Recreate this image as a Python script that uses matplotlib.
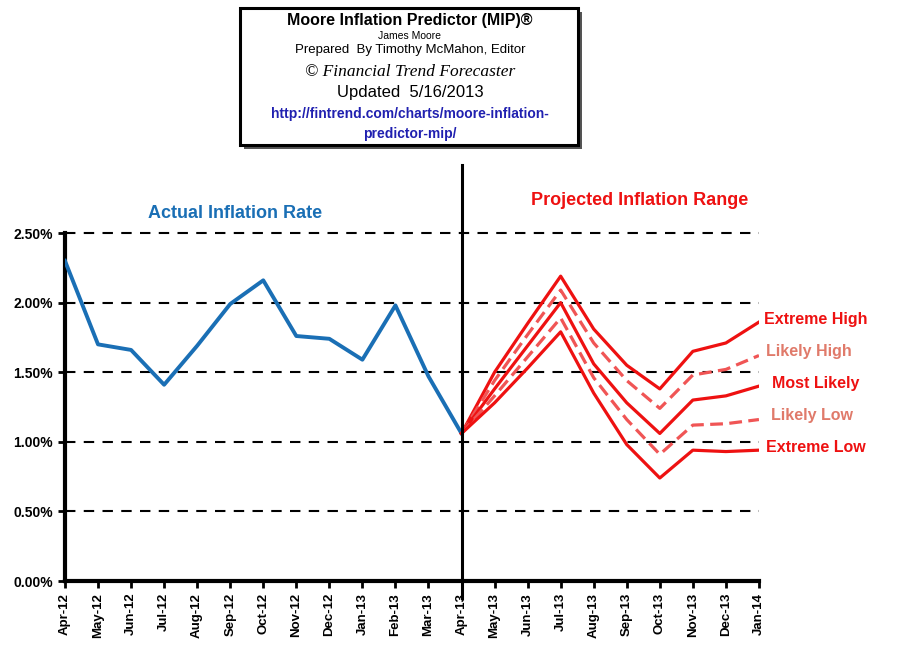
import matplotlib
matplotlib.use("Agg")
import matplotlib.pyplot as plt
from matplotlib.patches import Rectangle
from matplotlib.lines import Line2D

plt.rcParams['font.family'] = ['Liberation Sans', 'DejaVu Sans']

months = ["Apr-12", "May-12", "Jun-12", "Jul-12", "Aug-12", "Sep-12", "Oct-12",
          "Nov-12", "Dec-12", "Jan-13", "Feb-13", "Mar-13", "Apr-13", "May-13",
          "Jun-13", "Jul-13", "Aug-13", "Sep-13", "Oct-13", "Nov-13", "Dec-13",
          "Jan-14"]

actual = [2.30, 1.70, 1.66, 1.41, 1.69, 1.99, 2.16, 1.76, 1.74, 1.59, 1.98,
          1.47, 1.06]

# projections start at Apr-13
extreme_high = [1.06, 1.50, 1.85, 2.19, 1.81, 1.55, 1.38, 1.65, 1.71, 1.86]
likely_high = [1.06, 1.44, 1.77, 2.09, 1.71, 1.44, 1.24, 1.48, 1.52, 1.62]
most_likely = [1.06, 1.38, 1.69, 2.00, 1.56, 1.28, 1.06, 1.30, 1.33, 1.40]
likely_low = [1.06, 1.33, 1.61, 1.89, 1.46, 1.16, 0.91, 1.12, 1.13, 1.16]
extreme_low = [1.06, 1.28, 1.53, 1.79, 1.35, 0.98, 0.74, 0.94, 0.93, 0.94]

yticks = [0.0, 0.5, 1.0, 1.5, 2.0, 2.5]

BLUE = "#1a6fb5"
RED = "#ee1111"
LIGHT = "#f05555"
PINK = "#e07a6a"

fig = plt.figure(figsize=(9.1, 6.61), dpi=100)
ax = fig.add_axes([0.0714, 0.121, 0.7626, 0.5265])

x_act = list(range(len(actual)))
x_proj = list(range(len(actual) - 1, len(months)))

for y in yticks[1:]:
    ax.plot([0, len(months) - 1], [y, y], color="black", lw=1.5,
            ls=(0, (5, 4)), zorder=1, clip_on=False)

ax.plot(x_act, actual, color=BLUE, lw=2.8, zorder=3)
ax.plot(x_proj, extreme_high, color=RED, lw=2.3, zorder=3)
ax.plot(x_proj, likely_high, color=LIGHT, lw=2.3, ls=(0, (4, 2)), zorder=3)
ax.plot(x_proj, most_likely, color=RED, lw=2.3, zorder=3)
ax.plot(x_proj, likely_low, color=LIGHT, lw=2.3, ls=(0, (4, 2)), zorder=3)
ax.plot(x_proj, extreme_low, color=RED, lw=2.3, zorder=3)

# divider at Apr-13
ax.plot([12, 12], [-0.12, 2.99], color="black", lw=2.2, clip_on=False, zorder=4)

ax.set_xlim(0, len(months) - 1)
ax.set_ylim(0, 2.5)
ax.set_xticks(range(len(months)))
ax.set_xticklabels(months, rotation=90, fontsize=9.5, fontweight="bold")
ax.set_yticks(yticks)
ax.set_yticklabels(["%.2f%%" % v for v in yticks], fontsize=10, fontweight="bold")
ax.tick_params(axis="both", direction="out", length=5, width=2)
for s in ["top", "right"]:
    ax.spines[s].set_visible(False)
for s in ["left", "bottom"]:
    ax.spines[s].set_linewidth(3)

ax.text(5.15, 2.64, "Actual Inflation Rate", color=BLUE, fontsize=13,
        fontweight="bold", ha="center", va="center", clip_on=False)
ax.text(17.4, 2.73, "Projected Inflation Range", color=RED, fontsize=13,
        fontweight="bold", ha="center", va="center", clip_on=False)

labels = [("Extreme High", 1.88, RED), ("Likely High", 1.65, PINK),
          ("Most Likely", 1.42, RED), ("Likely Low", 1.19, PINK),
          ("Extreme Low", 0.96, RED)]
offs = [0.15, 0.2, 0.4, 0.36, 0.2]
for (txt, yv, c), o in zip(labels, offs):
    ax.text(21 + o, yv, txt, color=c, fontsize=11.5, fontweight="bold",
            ha="left", va="center", clip_on=False)

# title box with shadow
W, H = 910.0, 661.0
bx0, bx1, by0, by1 = 240 / W, 578 / W, 1 - 145 / H, 1 - 8 / H
fig.patches.append(Rectangle((bx0 + 4 / W, by0 - 4 / H), bx1 - bx0, by1 - by0,
                             transform=fig.transFigure, facecolor="#555555",
                             edgecolor="none", zorder=1))
fig.patches.append(Rectangle((bx0, by0), bx1 - bx0, by1 - by0,
                             transform=fig.transFigure, facecolor="white",
                             edgecolor="black", lw=2.2, zorder=2))

cx = 410 / W
def ftext(ypx, s, **kw):
    fig.text(cx, 1 - ypx / H, s, ha="center", va="center", zorder=3, **kw)

ftext(20, "Moore Inflation Predictor (MIP)®", fontsize=11.5, fontweight="bold")
ftext(36, "James Moore", fontsize=7.5)
ftext(50, "Prepared  By Timothy McMahon, Editor", fontsize=9.5)
ftext(72, "© Financial Trend Forecaster", fontsize=12.5, style="italic",
      family=["Liberation Serif", "DejaVu Serif"])
ftext(93, "Updated  5/16/2013", fontsize=12)
ftext(114, "http://fintrend.com/charts/moore-inflation-", fontsize=10,
      fontweight="bold", color="#2020b0")
ftext(134, "predictor-mip/", fontsize=10, fontweight="bold", color="#2020b0")
fig.lines.append(Line2D([262 / W, 561 / W], [1 - 122 / H, 1 - 122 / H],
                        transform=fig.transFigure, color="#2020b0", lw=1.2))
fig.lines.append(Line2D([352 / W, 462 / W], [1 - 142 / H, 1 - 142 / H],
                        transform=fig.transFigure, color="#2020b0", lw=1.2))

fig.savefig("out.png", dpi=100)
